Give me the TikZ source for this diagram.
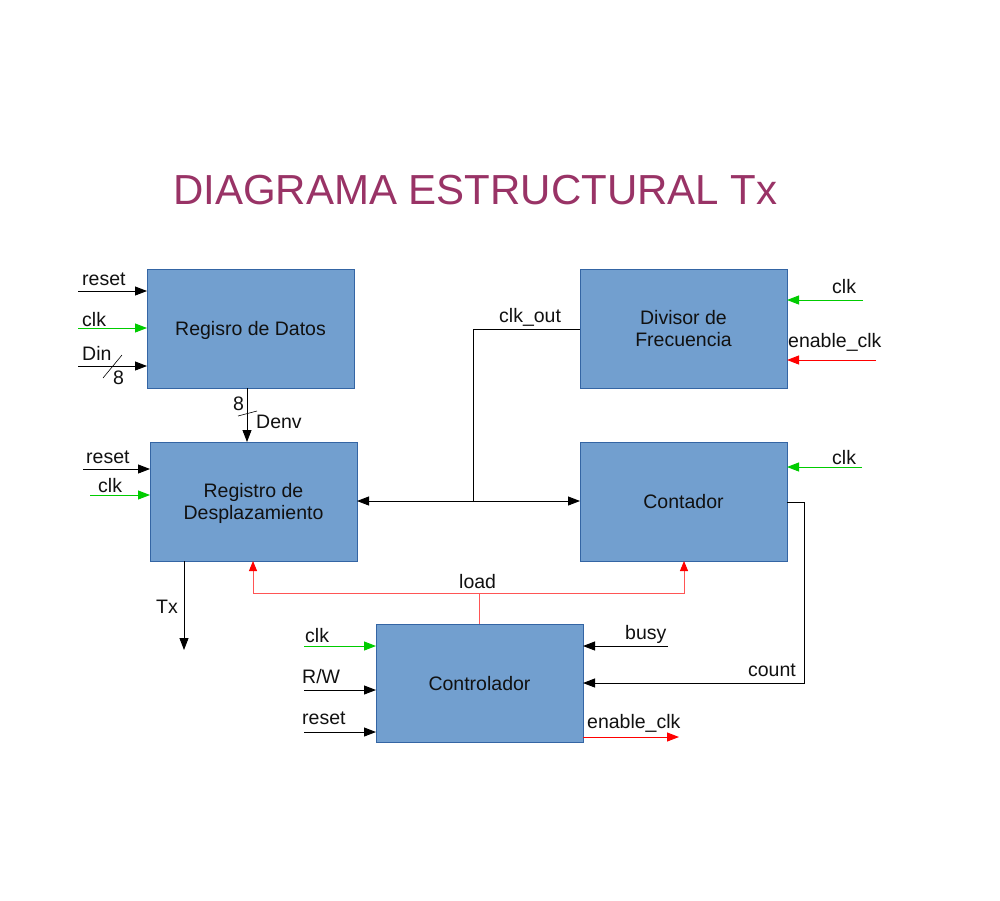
\documentclass[tikz,border=0pt]{standalone}
\usepackage{fontspec}
\setmainfont{Liberation Sans}
\usetikzlibrary{arrows.meta}
\definecolor{boxfill}{HTML}{729FCF}
\definecolor{boxline}{HTML}{3465A4}
\definecolor{sgreen}{HTML}{00CC00}
\definecolor{sred}{HTML}{FF0000}
\definecolor{ltred}{HTML}{FF5555}
\definecolor{titlec}{HTML}{993366}
\definecolor{txt}{HTML}{111111}
\begin{document}
\begin{tikzpicture}[x=1pt,y=-1pt,
 blk/.style={draw=boxline, fill=boxfill, line width=0.8pt, minimum width=207pt, minimum height=119pt, inner sep=0pt, outer sep=0pt, text depth=0pt, align=center, font=\fontsize{19.5}{22.5}\selectfont, text=txt},
 lbl/.style={inner sep=0pt, anchor=base west, font=\fontsize{19.5}{23}\selectfont, text=txt},
 wire/.style={line width=0.9pt, draw=black},
 arr/.style={wire, -{Triangle[length=12pt,width=9pt]}},
 garr/.style={arr, draw=sgreen},
 rarr/.style={arr, draw=sred},
 larr/.style={line width=0.9pt, draw=ltred, -{Triangle[length=10pt,width=8pt,color=sred]}},
 bidir/.style={wire, {Triangle[length=12pt,width=9pt]}-{Triangle[length=12pt,width=9pt]}}
]
\fill[white] (0,0) rectangle (1000,900);
\useasboundingbox (0,0) rectangle (1000,900);

% title
\node[inner sep=0pt, anchor=base west, text=titlec, font=\fontsize{42}{50}\selectfont] (title) at (173,204) {DIAGRAMA ESTRUCTURAL Tx};

% blocks
\node[blk] (rd) at (250.5,328.5) {Regisro de Datos};
\node[blk] (rs) at (253.5,501.5) {Registro de\\Desplazamiento};
\node[blk] (df) at (683.5,328.5) {Divisor de\\Frecuencia};
\node[blk] (ct) at (683.5,501.5) {Contador};
\node[blk, minimum height=118pt] (co) at (479.5,683) {Controlador};

% Registro de Datos inputs
\coordinate (rdreset) at (78,291);
\coordinate (rdclk) at (78,328);
\coordinate (rddin) at (78,366);
\draw[arr] (rdreset) -- (rdreset -| rd.west);
\draw[garr] (rdclk) -- (rdclk -| rd.west);
\draw[arr] (rddin) -- (rddin -| rd.west);
\node[lbl] (l1) at (82,285) {reset};
\node[lbl] (l2) at (82,326) {clk};
\node[lbl] (l3) at (82,360) {Din};
\coordinate (s1a) at (103,378);
\coordinate (s1b) at (122,355);
\draw[line width=0.6pt] (s1a) -- (s1b);
\node[lbl] (l4) at (113,384) {8};

% Denv
\coordinate (denv) at (247,388);
\draw[arr] (denv) -- (denv |- rs.north);
\coordinate (s2a) at (238,416);
\coordinate (s2b) at (257,411);
\draw[line width=0.6pt] (s2a) -- (s2b);
\node[lbl] (l5) at (233,410) {8};
\node[lbl] (l6) at (256,428) {Denv};

% Registro de Desplazamiento inputs
\coordinate (rsreset) at (83,469);
\coordinate (rsclk) at (90,495);
\draw[arr] (rsreset) -- (rsreset -| rs.west);
\draw[garr] (rsclk) -- (rsclk -| rs.west);
\node[lbl] (l7) at (86,463) {reset};
\node[lbl] (l8) at (98,492) {clk};

% bus and clk_out
\coordinate (bus) at (473,501);
\coordinate (clkout) at (473,329);
\draw[bidir] (bus -| rs.east) -- (bus -| ct.west);
\draw[wire] (bus) -- (clkout) -- (clkout -| df.west);
\node[lbl] (l9) at (499,322) {clk\_out};

% Divisor inputs
\coordinate (dfclk) at (863,300);
\coordinate (dfen) at (876,360);
\draw[garr] (dfclk) -- (dfclk -| df.east);
\draw[rarr] (dfen) -- (dfen -| df.east);
\node[lbl] (l10) at (832,293) {clk};
\node[lbl] (l11) at (788,347) {enable\_clk};

% Contador
\coordinate (ctclk) at (862,467);
\draw[garr] (ctclk) -- (ctclk -| ct.east);
\node[lbl] (l12) at (832,464) {clk};
\coordinate (cnt1) at (804,502);
\coordinate (cnt2) at (804,683);
\draw[arr] (cnt1 -| ct.east) -- (cnt1) -- (cnt2) -- (cnt2 -| co.east);
\node[lbl, anchor=base east] (l13) at (796,676) {count};

% Controlador right side
\coordinate (busy) at (668,646);
\draw[arr] (busy) -- (busy -| co.east);
\node[lbl] (l14) at (625,639) {busy};
\coordinate (enout) at (679,737);
\draw[rarr] (enout -| co.east) -- (enout);
\node[lbl] (l15) at (587,728) {enable\_clk};

% Tx
\coordinate (tx) at (184,650);
\draw[arr] (tx |- rs.south) -- (tx);
\node[lbl] (l16) at (156,613) {Tx};

% load
\coordinate (ld) at (479,593);
\coordinate (ldl) at (253,593);
\coordinate (ldr) at (684,593);
\draw[line width=0.9pt, draw=ltred] (co.north -| ld) -- (ld);
\draw[larr] (ld) -- (ldl) -- (ldl |- rs.south);
\draw[larr] (ld) -- (ldr) -- (ldr |- ct.south);
\node[lbl] (l17) at (459,588) {load};

% Controlador inputs
\coordinate (coclk) at (304,646);
\coordinate (corw) at (304,690);
\coordinate (coreset) at (304,732);
\draw[garr] (coclk) -- (coclk -| co.west);
\draw[arr] (corw) -- (corw -| co.west);
\draw[arr] (coreset) -- (coreset -| co.west);
\node[lbl] (l18) at (305,642) {clk};
\node[lbl] (l19) at (302,683) {R/W};
\node[lbl] (l20) at (302,724) {reset};
\end{tikzpicture}
\end{document}
